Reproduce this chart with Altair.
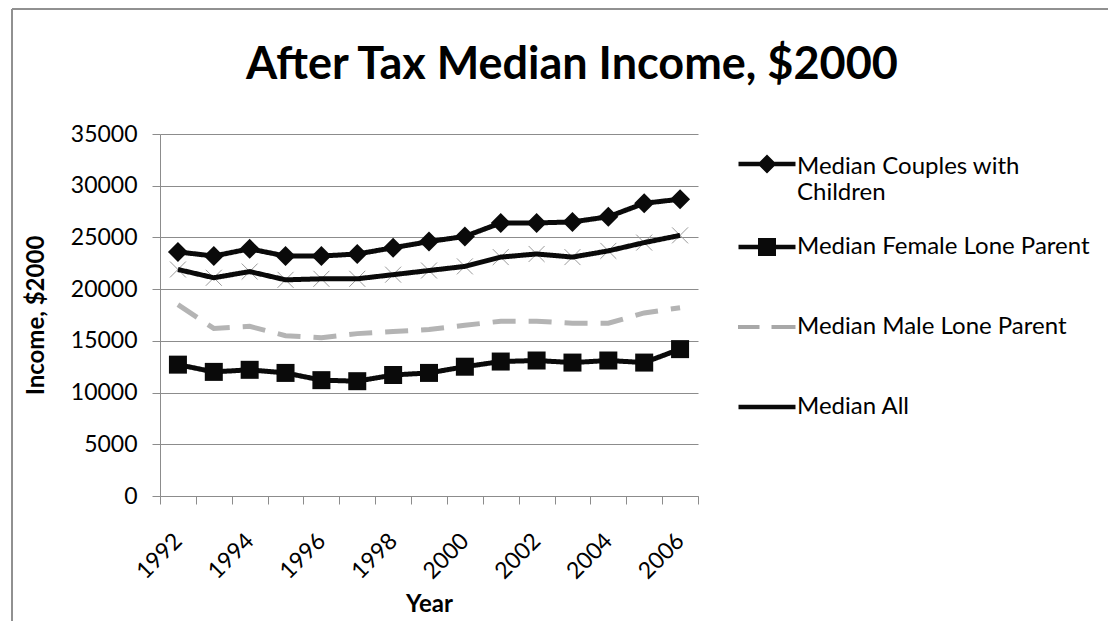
import altair as alt
import pandas as pd

years = list(range(1992, 2007))
series_names = [
    "Median Couples with Children",
    "Median Female Lone Parent",
    "Median Male Lone Parent",
    "Median All",
]
couples = [23600, 23200, 23900, 23200, 23200, 23400, 24000, 24600, 25100, 26400, 26400, 26500, 27000, 28300, 28700]
female = [12700, 12000, 12200, 11900, 11200, 11100, 11700, 11900, 12500, 13000, 13100, 12900, 13100, 12900, 14200]
male = [18500, 16200, 16400, 15500, 15300, 15700, 15900, 16100, 16500, 16900, 16900, 16700, 16700, 17700, 18200]
median_all = [21900, 21100, 21700, 20900, 21000, 21000, 21400, 21800, 22200, 23100, 23400, 23100, 23700, 24500, 25200]
y_ticks = [0, 5000, 10000, 15000, 20000, 25000, 30000, 35000]

rows = []
for name, vals in zip(series_names, [couples, female, male, median_all]):
    for yr, v in zip(years, vals):
        rows.append({"Year": yr, "Income": v, "series": name})
df = pd.DataFrame(rows)

FONT = "Lato"
GRID = "#8c8c8c"
line_colors = ["#0a0a0a", "#0a0a0a", "#b4b4b4", "#0a0a0a"]
line_dashes = [[1, 0], [1, 0], [23, 13], [1, 0]]

x_enc = alt.X(
    "Year:O",
    scale=alt.Scale(type="band", paddingInner=0, paddingOuter=0),
    axis=alt.Axis(
        title="Year",
        labelAngle=-45,
        labelAlign="right",
        labelBaseline="middle",
        labelExpr="datum.value % 2 == 0 ? datum.label : ''",
        tickBand="extent",
        tickSize=8,
        labelPadding=33,
        titlePadding=9,
        labelFontSize=23,
        titleFontSize=24,
    ),
)
y_enc = alt.Y(
    "Income:Q",
    scale=alt.Scale(domain=[0, 35000]),
    axis=alt.Axis(
        title="Income, $2000",
        values=y_ticks,
        format="d",
        tickSize=8,
        labelPadding=15,
        titlePadding=22,
        labelFontSize=23,
        titleFontSize=24,
    ),
)

base = alt.Chart(df)

x_markers = base.transform_filter(alt.datum.series == "Median All").mark_point(
    shape="M-1,-1L1,1M-1,1L1,-1", size=256, stroke="#9a9a9a", strokeWidth=1,
    filled=False, opacity=1,
).encode(x=x_enc, y=y_enc)

line_layers = []
for name, col, dash in zip(series_names, line_colors, line_dashes):
    line_layers.append(
        base.transform_filter(alt.datum.series == name)
        .mark_line(strokeWidth=5, color=col, strokeDash=dash)
        .encode(x=x_enc, y=y_enc)
    )

diamonds = base.transform_filter(alt.datum.series == series_names[0]).mark_point(
    shape="diamond", size=400, filled=True, color="#0a0a0a", opacity=1
).encode(x=x_enc, y=y_enc)

squares = base.transform_filter(alt.datum.series == series_names[1]).mark_point(
    shape="square", size=324, filled=True, color="#0a0a0a", opacity=1
).encode(x=x_enc, y=y_enc)

legend_paths = [
    "M-2.85,-0.52H2.85V-0.08H-2.85Z M0,-1.25L0.95,-0.3L0,0.65L-0.95,-0.3Z",
    "M-2.85,-0.22H2.85V0.22H-2.85Z M-0.9,-0.9H0.9V0.9H-0.9Z",
    "M-2.9,-0.2H-0.75V0.2H-2.9Z M0.45,-0.2H2.85V0.2H0.45Z",
    "M-2.85,-0.22H2.85V0.22H-2.85Z",
]
leg = alt.Legend(
    title=None,
    orient="none",
    legendX=595,
    legendY=21,
    padding=0,
    symbolSize=400,
    symbolOpacity=1,
    symbolStrokeWidth=0,
    labelFont=FONT,
    labelFontSize=24,
    labelColor="#000000",
    labelOffset=18,
    labelLimit=500,
    rowPadding=30,
    gridAlign="all",
    labelExpr="datum.label == 'Median Couples with Children' ? ['Median Couples with', 'Children'] : datum.label",
)
# legend-only layer: no marks drawn (filtered out), the legend comes from the fixed scale domain
legend_layer = base.transform_filter("datum.Year < 0").mark_point(filled=True, size=400, opacity=1).encode(
    x=x_enc,
    y=y_enc,
    shape=alt.Shape("series:N", scale=alt.Scale(domain=series_names, range=legend_paths), legend=leg),
    fill=alt.Fill(
        "series:N",
        scale=alt.Scale(domain=series_names, range=["#0a0a0a", "#0a0a0a", "#a8a8a8", "#0a0a0a"]),
        legend=leg,
    ),
)

frame = alt.Chart(df).mark_rect(fill=None, stroke="#909090", strokeWidth=1).encode(
    x=alt.value(-148), x2=alt.value(962), y=alt.value(-125), y2=alt.value(495)
)

chart = alt.layer(
    x_markers, *line_layers, diamonds, squares, legend_layer, frame
).properties(
    width=538,
    height=362,
    autosize=alt.AutoSizeParams(type="none"),
    padding={"left": 152, "top": 126, "right": 410, "bottom": 125},
    title=alt.Title(
        "After Tax Median Income, $2000",
        font=FONT,
        fontSize=45,
        fontWeight="bold",
        color="#000000",
        anchor="start",
        frame="group",
        dx=86,
        offset=-124,
        baseline="bottom",
    ),
).configure(
    background="white",
).configure_view(
    stroke=None
).configure_axis(
    labelFont=FONT,
    titleFont=FONT,
    labelColor="#000000",
    titleColor="#000000",
    titleFontWeight="bold",
    domainColor=GRID,
    tickColor=GRID,
    gridColor=GRID,
    gridWidth=1,
    domainWidth=1,
).configure_axisX(
    grid=False
)

chart.save("out.html", embed_options={"renderer": "svg", "actions": False})
